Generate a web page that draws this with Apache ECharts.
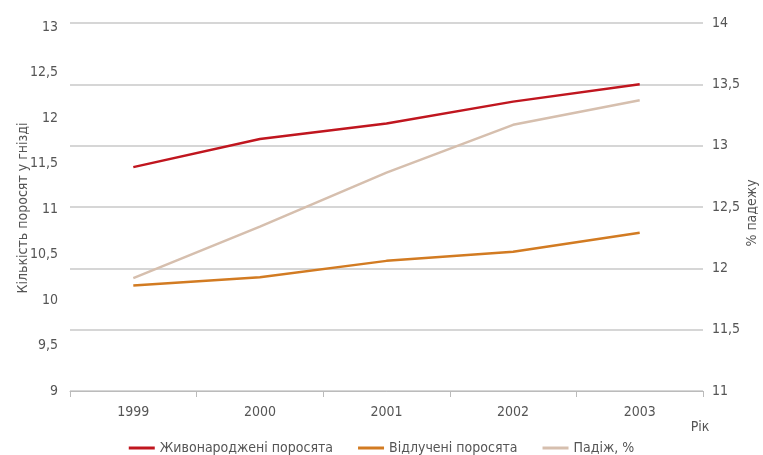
<!DOCTYPE html>
<html><head><meta charset="utf-8">
<script src="https://cdn.jsdelivr.net/npm/echarts@6/dist/echarts.min.js"></script>
<style>html,body{margin:0;padding:0;background:#fff}#c{width:763px;height:455px}</style>
</head><body><div id="c"></div>
<script>
const years = ['1999','2000','2001','2002','2003'];
const liveBorn = [11.46, 11.77, 11.94, 12.18, 12.37];
const weaned = [10.16, 10.25, 10.43, 10.53, 10.74];
const mortality = [11.92, 12.34, 12.78, 13.17, 13.37];
const seriesNames = ['Живонароджені поросята', 'Відлучені поросята', 'Падіж, %'];
const leftTitle = 'Кількість поросят у гнізді';
const rightTitle = '% падежу';
const xTitle = 'Рік';

const FONT = "'Liberation Sans Narrow','DejaVu Sans Condensed','Liberation Sans',sans-serif";
const TXT = '#555';
const fmt = v => String(+v.toFixed(2)).replace('.', ',');
const titleStyle = t => ({text: t, fontFamily: FONT, fontSize: 14, fill: TXT, align: 'center', verticalAlign: 'middle'});

const chart = echarts.init(document.getElementById('c'), null, {renderer: 'canvas'});
chart.setOption({
  animation: false,
  textStyle: {fontFamily: FONT},
  grid: {left: 70, right: 60, top: 23, bottom: 64, containLabel: false, outerBoundsMode: 'none'},
  legend: {
    bottom: 0, left: 'center', padding: 0, itemGap: 25, itemWidth: 26, itemHeight: 3, icon: 'rect',
    textStyle: {fontFamily: FONT, fontSize: 14, color: TXT},
    data: seriesNames
  },
  graphic: [
    {type: 'text', x: 700, y: 427, style: titleStyle(xTitle)},
    {type: 'text', x: 23, y: 208, rotation: Math.PI / 2, style: titleStyle(leftTitle)},
    {type: 'text', x: 752, y: 213, rotation: Math.PI / 2, style: titleStyle(rightTitle)}
  ],
  xAxis: {
    type: 'category', data: years, boundaryGap: true,
    axisLine: {lineStyle: {color: '#bbb'}},
    axisTick: {show: true, length: 6, lineStyle: {color: '#bbb'}},
    axisLabel: {color: TXT, fontSize: 14, fontFamily: FONT, margin: 14}
  },
  yAxis: [
    {type: 'value', min: 9, max: 13.044, interval: 0.5,
     axisLine: {show: false}, axisTick: {show: false}, splitLine: {show: false},
     axisLabel: {color: TXT, fontSize: 14, fontFamily: FONT, margin: 12, formatter: fmt, showMaxLabel: false}},
    {type: 'value', min: 11, max: 14, interval: 0.5, position: 'right',
     axisLine: {show: false}, axisTick: {show: false},
     splitLine: {show: true, lineStyle: {color: '#c8c8c8', width: 1.5}},
     axisLabel: {color: TXT, fontSize: 14, fontFamily: FONT, margin: 9, formatter: fmt}}
  ],
  series: [
    {name: seriesNames[0], type: 'line', yAxisIndex: 0, data: liveBorn, showSymbol: false,
     lineStyle: {width: 2.5, color: '#c0161f'}, itemStyle: {color: '#c0161f'}},
    {name: seriesNames[1], type: 'line', yAxisIndex: 0, data: weaned, showSymbol: false,
     lineStyle: {width: 2.5, color: '#d27b22'}, itemStyle: {color: '#d27b22'}},
    {name: seriesNames[2], type: 'line', yAxisIndex: 1, data: mortality, showSymbol: false,
     lineStyle: {width: 2.5, color: '#d6bfae'}, itemStyle: {color: '#d6bfae'}}
  ]
});
</script></body></html>
